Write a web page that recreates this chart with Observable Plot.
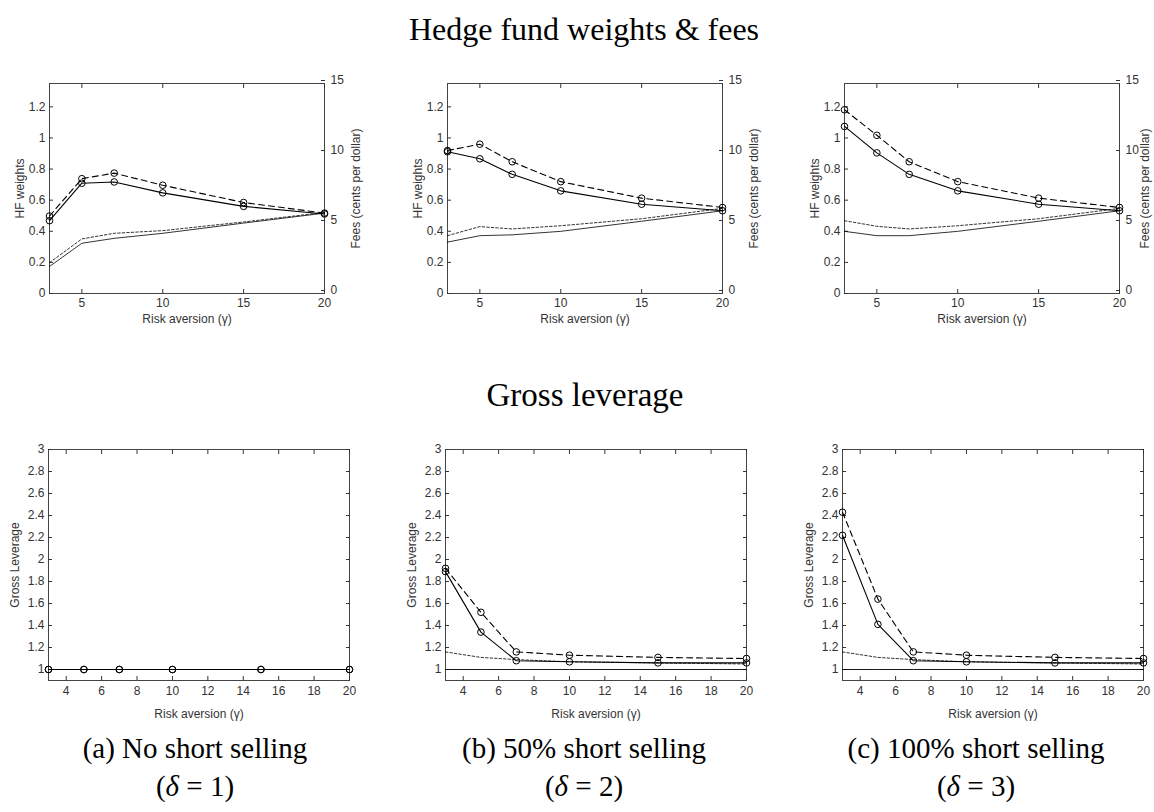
<!DOCTYPE html>
<html><head><meta charset="utf-8">
<script src="https://cdn.jsdelivr.net/npm/d3@7"></script>
<script src="https://cdn.jsdelivr.net/npm/@observablehq/plot@0.6"></script>
<style>
body{margin:0;background:#fff;}
#root{position:relative;width:1154px;height:812px;overflow:hidden;background:#fff;}
.ttl{position:absolute;font-family:"Liberation Serif","Times New Roman",serif;color:#000;white-space:nowrap;transform:translate(-50%,-50%);line-height:1;}
.panel{position:absolute;}
.panel svg{max-width:none !important;display:block;}
</style></head><body><div id="root"></div>
<script>
// ---- data ----
const gammas = [3, 5, 7, 10, 15, 20];
const topXTicks = [5, 10, 15, 20];
const bottomXTicks = [4, 6, 8, 10, 12, 14, 16, 18, 20];
const weightTicks = [0, 0.2, 0.4, 0.6, 0.8, 1, 1.2];
const feeTicks = [0, 5, 10, 15];
const levTicks = [1, 1.2, 1.4, 1.6, 1.8, 2, 2.2, 2.4, 2.6, 2.8, 3];

// HF weights (left axis)
const hfSolidA = [0.468, 0.709, 0.717, 0.647, 0.560, 0.511];
const hfDashA  = [0.498, 0.738, 0.774, 0.696, 0.585, 0.517];
const hfSolidB = [0.911, 0.866, 0.766, 0.660, 0.574, 0.532];
const hfDashB  = [0.919, 0.960, 0.847, 0.719, 0.613, 0.553];
const hfSolidC = [1.074, 0.904, 0.766, 0.660, 0.574, 0.532];
const hfDashC  = [1.181, 1.017, 0.847, 0.719, 0.613, 0.553];
// Fees, cents per dollar (right axis)
const feeSolidA = [1.93, 3.59, 3.94, 4.30, 5.03, 5.74];
const feeDotA   = [2.20, 3.90, 4.30, 4.49, 5.11, 5.79];
const feeSolidB = [3.67, 4.13, 4.19, 4.44, 5.16, 5.91];
const feeDotB   = [4.13, 4.78, 4.61, 4.84, 5.34, 6.08];
const feeSolidC = [4.44, 4.13, 4.13, 4.44, 5.16, 5.91];
const feeDotC   = [5.20, 4.80, 4.61, 4.84, 5.34, 6.08];
// Gross leverage
const levSolidA = [1, 1, 1, 1, 1, 1];
const levDashA  = [1, 1, 1, 1, 1, 1];
const levDotA   = [1, 1, 1, 1, 1, 1];
const levBaseA  = [1, 1, 1, 1, 1, 1];
const levSolidB = [1.89, 1.34, 1.08, 1.07, 1.06, 1.06];
const levDashB  = [1.92, 1.52, 1.16, 1.13, 1.11, 1.10];
const levDotB   = [1.16, 1.11, 1.09, 1.07, 1.06, 1.05];
const levBaseB  = [1, 1, 1, 1, 1, 1];
const levSolidC = [2.22, 1.41, 1.08, 1.07, 1.06, 1.06];
const levDashC  = [2.43, 1.64, 1.16, 1.13, 1.11, 1.10];
const levDotC   = [1.16, 1.11, 1.09, 1.07, 1.06, 1.05];
const levBaseC  = [1, 1, 1, 1, 1, 1];

const weightMax = 1.35, feeMax = 15;
const K = weightMax / feeMax; // fees -> weight axis units

const captions = [
  ["(a) No short selling", "1"],
  ["(b) 50% short selling", "2"],
  ["(c) 100% short selling", "3"]
];

// ---- layout ----
const root = document.getElementById("root");
const AX = "#333333";
const fmt = d => String(+(+d).toFixed(2));
const tickFont = {fontFamily: "'Liberation Sans', Arial, Helvetica, sans-serif", fontSize: "11px", color: AX, background: "transparent", overflow: "visible"};

function place(svg, left, top, w) {
  const d = document.createElement("div");
  d.className = "panel";
  d.style.left = left + "px";
  d.style.top = top + "px";
  d.style.width = w + "px";
  d.appendChild(svg);
  root.appendChild(d);
}
function text(html, x, y, size) {
  const d = document.createElement("div");
  d.className = "ttl";
  d.style.left = x + "px";
  d.style.top = y + "px";
  d.style.fontSize = size + "px";
  d.innerHTML = html;
  root.appendChild(d);
}

function seriesMarks(list) {
  const marks = [];
  for (const s of list) {
    marks.push(Plot.line(gammas, {x: d => d, y: s.values, stroke: "#000", strokeWidth: s.w, strokeDasharray: s.dash || null}));
    if (s.dots) marks.push(Plot.dot(gammas, {x: d => d, y: s.values, r: 3.3, stroke: "#000", fill: "none", strokeWidth: 1}));
  }
  return marks;
}

function topPanel(fx, hfS, hfD, feeS, feeD, feeLabelOffset) {
  const ml = 55, mr = 55, mt = 10, mb = 45, w = 275, h = 210;
  const svg = Plot.plot({
    width: w + ml + mr, height: h + mt + mb,
    marginLeft: ml, marginRight: mr, marginTop: mt, marginBottom: mb,
    style: tickFont,
    x: {domain: [3, 20]},
    y: {domain: [0, weightMax]},
    marks: [
      Plot.frame({stroke: "#444", strokeWidth: 1}),
      Plot.axisX(topXTicks, {anchor: "bottom", tickSize: -4, tickPadding: 9, stroke: AX, label: "Risk aversion (γ)", labelAnchor: "center", labelOffset: 29, labelArrow: "none", fontSize: 12}),
      Plot.axisX(topXTicks, {anchor: "top", tickSize: -4, stroke: AX, tickFormat: () => "", label: null}),
      Plot.axisY(weightTicks, {anchor: "left", tickSize: -4, tickPadding: 8, stroke: AX, tickFormat: fmt, label: "HF weights", labelAnchor: "center", labelOffset: 34, labelArrow: "none", fontSize: 12}),
      Plot.axisY(feeTicks.map(f => f * K), {anchor: "right", tickSize: -4, tickPadding: 10, dy: -3, stroke: AX, tickFormat: d => String(Math.round(d / K)), label: "Fees (cents per dollar)", labelAnchor: "center", labelOffset: feeLabelOffset, labelArrow: "none", fontSize: 12}),
      ...seriesMarks([
        {values: feeS.map(f => f * K), w: 0.8},
        {values: feeD.map(f => f * K), w: 0.8, dash: "2.5,2"},
        {values: hfS, w: 1.1, dots: true},
        {values: hfD, w: 1.1, dash: "6,4", dots: true}
      ])
    ]
  });
  place(svg, fx - ml, 83 - mt, w + ml + mr);
}

function bottomPanel(fx, solid, dash, dot, base) {
  const ml = 55, mr = 12, mt = 10, mb = 50, w = 301, h = 231;
  const svg = Plot.plot({
    width: w + ml + mr, height: h + mt + mb,
    marginLeft: ml, marginRight: mr, marginTop: mt, marginBottom: mb,
    style: tickFont,
    x: {domain: [3, 20]},
    y: {domain: [0.9, 3]},
    marks: [
      Plot.frame({stroke: "#444", strokeWidth: 1}),
      Plot.axisX(bottomXTicks, {anchor: "bottom", tickSize: -4, tickPadding: 10, stroke: AX, label: "Risk aversion (γ)", labelAnchor: "center", labelOffset: 37, labelArrow: "none", fontSize: 12}),
      Plot.axisX(bottomXTicks, {anchor: "top", tickSize: -4, stroke: AX, tickFormat: () => "", label: null}),
      Plot.axisY(levTicks, {anchor: "left", tickSize: -4, tickPadding: 8, stroke: AX, tickFormat: fmt, label: "Gross Leverage", labelAnchor: "center", labelOffset: 38, labelArrow: "none", fontSize: 12}),
      Plot.axisY(levTicks, {anchor: "right", tickSize: -4, stroke: AX, tickFormat: () => "", label: null}),
      ...seriesMarks([
        {values: base, w: 0.9},
        {values: dot, w: 0.8, dash: "2.5,2"},
        {values: solid, w: 1.1, dots: true},
        {values: dash, w: 1.1, dash: "6,4", dots: true}
      ])
    ]
  });
  place(svg, fx - ml, 449 - mt, w + ml + mr);
}

topPanel(49, hfSolidA, hfDashA, feeSolidA, feeDotA, 35);
topPanel(447, hfSolidB, hfDashB, feeSolidB, feeDotB, 35);
topPanel(844, hfSolidC, hfDashC, feeSolidC, feeDotC, 29);
bottomPanel(48, levSolidA, levDashA, levDotA, levBaseA);
bottomPanel(445, levSolidB, levDashB, levDotB, levBaseB);
bottomPanel(842, levSolidC, levDashC, levDotC, levBaseC);

text("Hedge fund weights &amp; fees", 584, 29, 32);
text("Gross leverage", 585, 395, 33);
const capX = [195, 584, 976];
captions.forEach(([t, d], i) => {
  text(t, capX[i], 748, 29);
  text("(<i>δ</i> = " + d + ")", capX[i], 786, 29);
});
</script>
</body></html>
